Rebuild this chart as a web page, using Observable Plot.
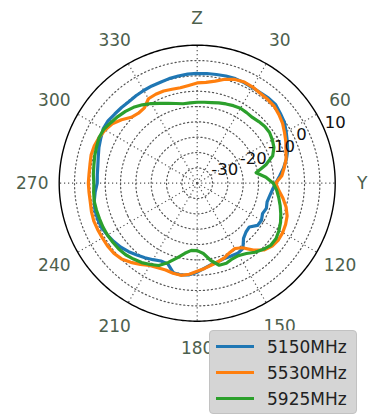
<!DOCTYPE html>
<html><head><meta charset="utf-8">
<script src="https://cdn.jsdelivr.net/npm/d3@7"></script>
<script src="https://cdn.jsdelivr.net/npm/@observablehq/plot@0.6"></script>
<style>
html,body{margin:0;padding:0;background:#fff;}
#wrap{position:relative;width:373px;height:416px;font-family:"DejaVu Sans",sans-serif;overflow:hidden;}
#legend{position:absolute;left:209px;top:330px;width:148px;height:84px;box-sizing:border-box;background:#d5d5d5;border:1px solid #c2c2c2;border-radius:4px;}
.item{position:absolute;left:0;height:26px;width:100%;}
.swatch{position:absolute;left:6px;top:11px;width:38px;height:3px;}
.lab{position:absolute;left:57px;top:1px;font-size:17px;line-height:24px;color:#222;}
</style></head><body><div id="wrap"><div id="legend"></div></div>
<script>
const angles = [0,5,10,15,20,25,30,35,40,45,50,55,60,65,70,75,80,85,90,95,100,105,110,115,120,125,130,135,140,145,150,155,160,165,170,175,180,185,190,195,200,205,210,215,220,225,230,235,240,245,250,255,260,265,270,275,280,285,290,295,300,305,310,315,320,325,330,335,340,345,350,355];
const s5150 = [0.8,0.9,1.0,1.2,1.3,1.2,1.0,1.0,1.2,1.2,0.4,-0.3,-1.5,-2.6,-3.6,-4.9,-6.4,-8.0,-9.4,-10.4,-11.0,-11.4,-11.0,-11.5,-10.8,-11.0,-12.8,-12.5,-11.5,-9.0,-8.6,-8.8,-8.9,-8.5,-8.1,-7.2,-6.0,-5.0,-4.6,-4.8,-7.0,-7.0,-6.2,-5.3,-4.4,-3.4,-2.5,-1.8,-1.2,-0.6,-0.5,-0.5,-0.9,-1.6,-2.4,-2.3,-2.1,-1.6,-0.9,-0.3,0.4,0.5,0.1,-0.1,-0.3,-0.2,-0.1,0.0,0.0,0.3,0.5,0.7];
const s5530 = [-2.3,-2.0,-1.2,0.1,1.0,1.4,1.2,0.8,0.7,0.5,-0.2,-1.0,-2.1,-3.1,-4.2,-5.0,-6.2,-7.3,-9.4,-8.3,-6.6,-5.0,-3.8,-3.2,-2.8,-2.7,-3.1,-4.2,-6.5,-9.3,-10.4,-10.0,-9.1,-8.5,-7.9,-7.1,-6.3,-5.2,-4.5,-4.6,-4.9,-4.6,-4.0,-2.7,-1.3,-0.1,0.5,0.7,0.7,0.8,0.9,0.7,0.4,0.4,0.5,0.4,0.5,0.8,0.7,0.3,-0.3,-1.2,-2.8,-4.6,-5.2,-5.0,-3.2,-3.0,-3.0,-3.3,-3.4,-3.0];
const s5925 = [-8.6,-8.5,-8.3,-7.9,-7.5,-7.1,-6.8,-6.9,-7.0,-6.6,-6.2,-6.2,-6.7,-7.4,-8.8,-11.8,-15.5,-12.5,-10.2,-9.0,-8.0,-7.0,-6.0,-5.0,-4.2,-3.6,-3.6,-4.5,-5.6,-7.0,-7.8,-7.8,-7.2,-7.3,-9.4,-12.0,-13.0,-13.0,-11.8,-9.8,-7.5,-5.4,-4.4,-3.4,-2.7,-2.0,-1.6,-1.4,-1.2,-1.1,-1.1,-1.0,-0.9,-1.1,-1.3,-1.0,-0.8,-0.4,-0.1,0.3,0.2,-0.6,-1.2,-1.9,-2.7,-3.8,-5.0,-6.3,-7.3,-8.1,-8.7,-8.7];
const seriesNames = ["5150MHz","5530MHz","5925MHz"];
const seriesColors = ["#1f77b4","#ff7f0e","#2ca02c"];
const gridLevels = [-30,-25,-20,-15,-10,-5,0,5];
const radialLabels = [-30,-20,-10,0,10];
const thetaTicks = [0,30,60,90,120,150,180,210,240,270,300,330];
const thetaLabels = ["Z","30","60","Y","120","150","180","210","240","270","300","330"];
const rMin = -35, rMax = 10;

const lon = t => 180 - t;
const lat = v => 90 - (v - rMin);
const circle = v => d3.geoCircle().center([0, 90]).radius(v - rMin).precision(1)();

const rows = [];
[s5150, s5530, s5925].forEach((vals, k) => {
  angles.forEach((a, i) => rows.push({series: seriesNames[k], angle: a, value: vals[i]}));
  rows.push({series: seriesNames[k], angle: 360, value: vals[0]});
});

const dotted = {stroke: "#555", strokeWidth: 1.2, strokeDasharray: "1.2,2.8"};

const chart = Plot.plot({
  width: 373, height: 416,
  marginLeft: 58.7, marginRight: 38.3, marginTop: 44.7, marginBottom: 95.3,
  projection: {type: "azimuthal-equidistant", rotate: [0, -90], domain: circle(rMax), clip: false},
  color: {domain: seriesNames, range: seriesColors},
  style: {fontFamily: "DejaVu Sans", background: "white", overflow: "visible"},
  marks: [
    Plot.geo(gridLevels, {geometry: circle, fill: "none", ...dotted}),
    Plot.link(thetaTicks, {x1: lon, y1: 90, x2: lon, y2: lat(rMax), ...dotted}),
    Plot.geo([rMax], {geometry: circle, fill: "none", stroke: "black", strokeWidth: 1.4}),
    Plot.line(rows, {x: d => lon(d.angle), y: d => lat(d.value), z: "series", stroke: "series", strokeWidth: 3.2, strokeLinejoin: "round"}),
    Plot.text(thetaTicks, {x: lon, y: lat(rMax + 8.8), text: (d, i) => thetaLabels[i], fill: "#4d604d", fontSize: 17, textAnchor: "middle", lineAnchor: "middle"}),
    Plot.text(radialLabels, {x: lon(67.5), y: v => lat(v), text: v => String(v), fill: "#111", fontSize: 16.5, textAnchor: "start", lineAnchor: "bottom", dy: -2})
  ]
});
const wrap = document.getElementById("wrap");
wrap.insertBefore(chart, wrap.firstChild);

const legend = document.getElementById("legend");
seriesNames.forEach((name, i) => {
  const it = document.createElement("div");
  it.className = "item";
  it.style.top = (3 + i * 26) + "px";
  const sw = document.createElement("div");
  sw.className = "swatch";
  sw.style.background = seriesColors[i];
  const lb = document.createElement("div");
  lb.className = "lab";
  lb.textContent = name;
  it.appendChild(sw); it.appendChild(lb);
  legend.appendChild(it);
});
</script>
</body></html>
